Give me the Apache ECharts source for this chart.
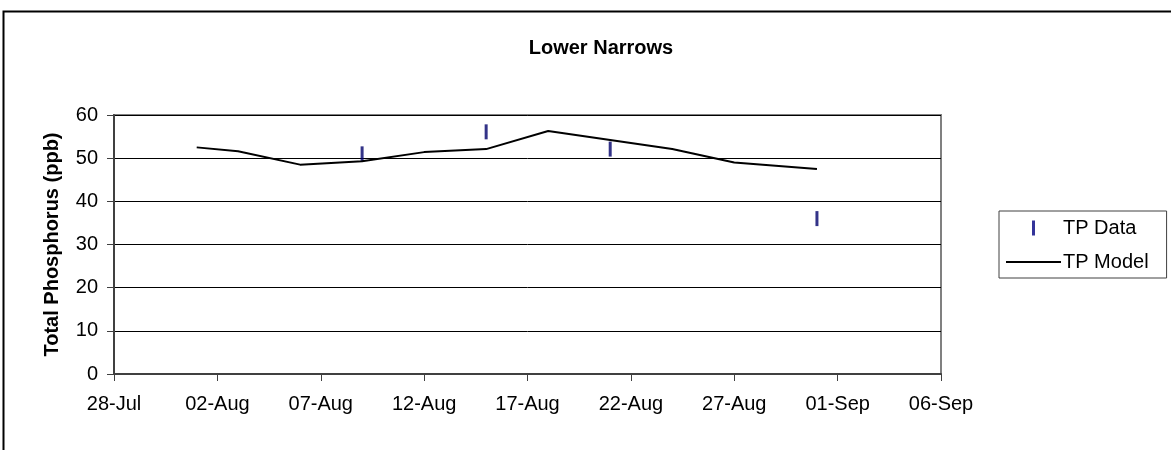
<!DOCTYPE html>
<html>
<head>
<meta charset="utf-8">
<script src="https://cdn.jsdelivr.net/npm/echarts@6/dist/echarts.min.js"></script>
<style>
html,body{margin:0;padding:0;background:#fff;}
#chart{width:1171px;height:450px;}
</style>
</head>
<body>
<div id="chart"></div>
<script>
const xTickLabels = ['28-Jul','02-Aug','07-Aug','12-Aug','17-Aug','22-Aug','27-Aug','01-Sep','06-Sep'];
const yTicks = [0,10,20,30,40,50,60];
const modelDates = ['01-Aug','03-Aug','06-Aug','09-Aug','12-Aug','15-Aug','18-Aug','21-Aug','24-Aug','27-Aug','31-Aug'];
const modelValues = [52.5,51.6,48.5,49.3,51.4,52.1,56.3,54.2,52.1,49.0,47.5];
const dataDates = ['09-Aug','15-Aug','21-Aug','31-Aug'];
const dataValues = [51.0,56.1,52.1,36.0];

const MONTHS = {Jan:0,Feb:1,Mar:2,Apr:3,May:4,Jun:5,Jul:6,Aug:7,Sep:8,Oct:9,Nov:10,Dec:11};
function dayOffset(s){
  const p = s.split('-');
  const base = Date.UTC(2000,6,28);
  return Math.round((Date.UTC(2000, MONTHS[p[1]], +p[0]) - base)/86400000);
}
const FONT = "'Liberation Sans', Arial, sans-serif";

const chart = echarts.init(document.getElementById('chart'));
chart.setOption({
  backgroundColor:'#fff',
  animation:false,
  title:{
    text:'Lower Narrows',
    left:596, top:33, textAlign:'center',
    textStyle:{fontFamily:FONT,fontSize:20,fontWeight:'bold',color:'#000'}
  },
  grid:{left:114,top:115,right:230,bottom:76,show:true,borderColor:'#808080',borderWidth:2,backgroundColor:'#fff'},
  xAxis:{
    type:'value', min:0, max:(xTickLabels.length-1)*5, interval:5,
    axisLine:{lineStyle:{color:'#404040',width:2}},
    axisTick:{show:true,length:7,lineStyle:{color:'#404040',width:1}},
    splitLine:{show:false},
    axisLabel:{margin:20,color:'#000',fontFamily:FONT,fontSize:20,
      formatter:function(v){return xTickLabels[Math.round(v/5)];}}
  },
  yAxis:{
    type:'value', min:yTicks[0], max:yTicks[yTicks.length-1], interval:10,
    name:'Total Phosphorus (ppb)', nameLocation:'middle', nameGap:52,
    nameTextStyle:{fontFamily:FONT,fontSize:20,fontWeight:'bold',color:'#000'},
    axisLine:{show:true,lineStyle:{color:'#404040',width:2}},
    axisTick:{show:true,length:7,lineStyle:{color:'#404040',width:1}},
    splitLine:{show:true,lineStyle:{color:'#000',width:1}},
    axisLabel:{margin:16,color:'#000',fontFamily:FONT,fontSize:20}
  },
  legend:{
    orient:'vertical', left:999, top:211,
    padding:[7,18,6,7], itemGap:14, itemWidth:55, itemHeight:15,
    borderColor:'#404040', borderWidth:1, borderRadius:0,
    textStyle:{fontFamily:FONT,fontSize:20,color:'#000',padding:[0,0,0,-3]},
    data:[
      {name:'TP Data', icon:'path://M0,0h3v15h-3z', itemStyle:{color:'#000080'}},
      {name:'TP Model', icon:'path://M0,0h55v2h-55z', itemStyle:{color:'#000'}}
    ]
  },
  graphic:[{
    type:'rect', left:1, top:9, z:-10, silent:true,
    shape:{width:1200,height:500},
    style:{fill:'none',stroke:'#000',lineWidth:2}
  }],
  series:[
    {
      name:'TP Model', type:'line',
      data: modelDates.map((d,i)=>[dayOffset(d), modelValues[i]]),
      showSymbol:false, symbol:'none',
      lineStyle:{color:'#000',width:2},
      itemStyle:{color:'#000'}
    },
    {
      name:'TP Data', type:'scatter',
      data: dataDates.map((d,i)=>[dayOffset(d), dataValues[i]]),
      symbol:'rect', symbolSize:[3,15],
      itemStyle:{color:'#00006a'}
    }
  ]
});
</script>
</body>
</html>
